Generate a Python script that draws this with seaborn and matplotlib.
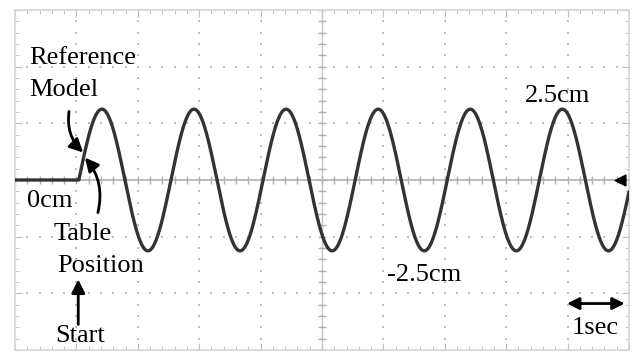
import numpy as np
import pandas as pd
import seaborn as sns
import matplotlib.pyplot as plt
from matplotlib.ticker import MultipleLocator

# values
amplitude_cm = 2.5      # peak labelled 2.5cm / -2.5cm
period_sec = 1.5        # one cycle every 1.5 divisions
start_sec = 1.04        # table starts moving here
time_range = [0, 10]    # 10 divisions, 1 sec each
pos_range = [-6, 6]     # 6 divisions, 2 cm each

sns.set_style("white")
plt.rcParams['font.family'] = ['Liberation Serif', 'DejaVu Serif']

t = np.linspace(time_range[0], time_range[1], 2000)
pos = np.where(t < start_sec, 0.0, amplitude_cm * np.sin(2 * np.pi * (t - start_sec) / period_sec))
df = pd.DataFrame({"time": t, "position": pos})

fig = plt.figure(figsize=(6.36, 3.54), dpi=100)
ax = fig.add_axes([15 / 636, 4 / 354, 614 / 636, 340 / 354])

grid_c = '#bdbdbd'
# dotted oscilloscope grid
xmaj = np.arange(0, 11, 1)
ymaj = np.arange(-6, 7, 2)
xmin = np.arange(0, 10.01, 0.2)
ymin = np.arange(-6, 6.01, 0.4)
for xv in xmaj[1:-1]:
    ax.scatter(np.full(len(ymin), xv), ymin, s=2.5, marker='s', color=grid_c, linewidths=0, zorder=1)
for yv in ymaj[1:-1]:
    ax.scatter(xmin, np.full(len(xmin), yv), s=2.5, marker='s', color=grid_c, linewidths=0, zorder=1)

# centre cross with minor ticks
ax.axhline(0, color='#b0b0b0', lw=1.2, zorder=1)
ax.axvline(5, color='#c4c4c4', lw=1, zorder=1)
ax.scatter(xmin, np.zeros(len(xmin)), marker='|', s=40, color='#b0b0b0', linewidths=1, zorder=1)
ax.scatter(np.full(len(ymin), 5), ymin, marker='_', s=40, color='#b0b0b0', linewidths=1, zorder=1)

sns.lineplot(data=df, x="time", y="position", color='#333333', lw=2.4, ax=ax, zorder=3)

ax.set_xlim(time_range)
ax.set_ylim(pos_range)
ax.xaxis.set_major_locator(MultipleLocator(1))
ax.xaxis.set_minor_locator(MultipleLocator(0.2))
ax.yaxis.set_major_locator(MultipleLocator(2))
ax.yaxis.set_minor_locator(MultipleLocator(0.4))
ax.tick_params(which='both', direction='in', top=True, right=True, bottom=True, left=True,
               labelbottom=False, labelleft=False, color=grid_c)
ax.tick_params(which='major', length=5)
ax.tick_params(which='minor', length=3)
ax.set_xlabel("")
ax.set_ylabel("")
for s in ax.spines.values():
    s.set_color('#d6d6d6')
    s.set_linewidth(1.2)

fs = 19
txt = dict(fontsize=fs, color='black', va='baseline', ha='left', zorder=5)
ax.text(0.23, 4.08, "Reference", **txt)
ax.text(0.23, 2.95, "Model", **txt)
ax.text(0.20, -0.97, "0cm", **txt)
ax.text(0.62, -2.10, "Table", **txt)
ax.text(0.68, -3.23, "Position", **txt)
ax.text(0.65, -5.70, "Start", **txt)
ax.text(8.31, 2.77, "2.5cm", **txt)
ax.text(6.06, -3.58, "-2.5cm", **txt)
ax.text(9.07, -5.45, "1sec", **txt)

arrow = dict(arrowstyle='-|>', color='black', lw=2, mutation_scale=20, shrinkA=0, shrinkB=0)
ax.annotate("", xy=(1.03, -3.51), xytext=(1.03, -5.10), arrowprops=arrow)
ax.annotate("", xy=(1.11, 0.97), xytext=(0.88, 2.42),
            arrowprops=dict(arrow, connectionstyle='arc3,rad=0.25'))
ax.annotate("", xy=(1.14, 0.79), xytext=(1.35, -1.15),
            arrowprops=dict(arrow, connectionstyle='arc3,rad=0.25'))
ax.annotate("", xy=(9.93, -4.36), xytext=(8.99, -4.36),
            arrowprops=dict(arrowstyle='<|-|>', color='black', lw=2, mutation_scale=18,
                            shrinkA=0, shrinkB=0))
ax.scatter([9.85], [0], marker='<', s=60, color='black', zorder=4)

fig.savefig("out.png", dpi=100)
